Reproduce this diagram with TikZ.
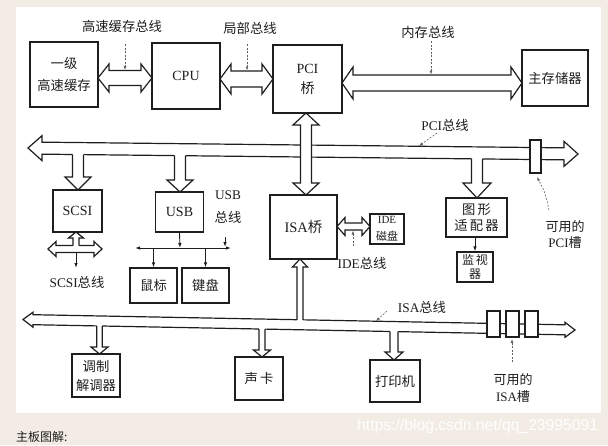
\documentclass[tikz,border=0pt]{standalone}
\usepackage{fontspec}
\setmainfont{Liberation Serif}
\newfontfamily\cjk{Noto Sans CJK SC}
\newfontfamily\wsans{Liberation Sans}
\usetikzlibrary{arrows.meta,calc}
\definecolor{bg}{HTML}{F2ECE4}
\definecolor{ink}{HTML}{1E1E1E}
\newcommand\zh[1]{{\cjk #1}}
% horizontal double hollow arrow: x1 x2 yc shaft head headlen
\newcommand\HDA[6]{\filldraw[hol] (#1,#3) -- ({#1+#6},{#3-#5}) -- ({#1+#6},{#3-#4}) -- ({#2-#6},{#3-#4}) -- ({#2-#6},{#3-#5}) -- (#2,#3) -- ({#2-#6},{#3+#5}) -- ({#2-#6},{#3+#4}) -- ({#1+#6},{#3+#4}) -- ({#1+#6},{#3+#5}) -- cycle;}
% tilted bus: x1 y1 x2 y2 shaft head headlen
\newcommand\BUS[7]{\pgfmathsetmacro\fr{#7/(#3-#1)}%
\filldraw[hol] (#1,#2) -- ($(#1,#2)!\fr!(#3,#4)+(0,-#6)$) -- ($(#1,#2)!\fr!(#3,#4)+(0,-#5)$) -- ($(#3,#4)!\fr!(#1,#2)+(0,-#5)$) -- ($(#3,#4)!\fr!(#1,#2)+(0,-#6)$) -- (#3,#4) -- ($(#3,#4)!\fr!(#1,#2)+(0,#6)$) -- ($(#3,#4)!\fr!(#1,#2)+(0,#5)$) -- ($(#1,#2)!\fr!(#3,#4)+(0,#5)$) -- ($(#1,#2)!\fr!(#3,#4)+(0,#6)$) -- cycle;}
% branch down from a bus: xc ytop ytip shaft head headlen
\newcommand\VBD[6]{\fill[white] ({#1-#4},{#2-2.5}) -- ({#1-#4},{#3-#6}) -- ({#1-#5},{#3-#6}) -- (#1,#3) -- ({#1+#5},{#3-#6}) -- ({#1+#4},{#3-#6}) -- ({#1+#4},{#2-2.5}) -- cycle;
\draw[ln] ({#1-#4},#2) -- ({#1-#4},{#3-#6}) -- ({#1-#5},{#3-#6}) -- (#1,#3) -- ({#1+#5},{#3-#6}) -- ({#1+#4},{#3-#6}) -- ({#1+#4},#2);}
% branch up from a bus: xc ybottom ytip shaft head headlen
\newcommand\VBU[6]{\fill[white] ({#1-#4},{#2+2.5}) -- ({#1-#4},{#3+#6}) -- ({#1-#5},{#3+#6}) -- (#1,#3) -- ({#1+#5},{#3+#6}) -- ({#1+#4},{#3+#6}) -- ({#1+#4},{#2+2.5}) -- cycle;
\draw[ln] ({#1-#4},#2) -- ({#1-#4},{#3+#6}) -- ({#1-#5},{#3+#6}) -- (#1,#3) -- ({#1+#5},{#3+#6}) -- ({#1+#4},{#3+#6}) -- ({#1+#4},#2);}
% vertical double hollow arrow: xc ytop ybottom shaft head headlen
\newcommand\VDA[6]{\filldraw[hol] (#1,#2) -- ({#1+#5},{#2+#6}) -- ({#1+#4},{#2+#6}) -- ({#1+#4},{#3-#6}) -- ({#1+#5},{#3-#6}) -- (#1,#3) -- ({#1-#5},{#3-#6}) -- ({#1-#4},{#3-#6}) -- ({#1-#4},{#2+#6}) -- ({#1-#5},{#2+#6}) -- cycle;}
\begin{document}
\begin{tikzpicture}[x=1pt,y=-1pt,
  ln/.style={draw=ink,line width=1.2pt,line join=miter},
  hol/.style={fill=white,draw=ink,line width=1.2pt,line join=miter},
  box/.style={draw=ink,line width=1.2pt,inner sep=0pt,align=center,text=ink,font=\cjk\fontsize{13.3}{20}\selectfont},
  lbl/.style={inner sep=0pt,align=center,text=ink,font=\fontsize{13.3}{16}\selectfont},
  zlbl/.style={lbl,font=\cjk\fontsize{13.3}{16}\selectfont},
  lead/.style={draw=ink!70,line width=0.6pt,dash pattern=on 2pt off 1.5pt,-{Latex[length=4pt,width=3pt]}},
  thinar/.style={draw=ink,line width=0.9pt,-{Latex[length=5pt,width=3.5pt]}},
  slot/.style={fill=white,draw=ink,line width=1.2pt}]
\useasboundingbox (0,0) rectangle (608,445);
\fill[bg] (0,0) rectangle (608,445);
\fill[white] (16,7) rectangle (601,413);

% ---- top row ----
\node[box,minimum width=68pt,minimum height=65pt,font=\cjk\fontsize{13.3}{22}\selectfont] (cache) at (64,74.5) {一级\\高速缓存};
\node[box,minimum width=68pt,minimum height=66pt,font=\fontsize{14}{16}\selectfont] (cpu) at (186,76) {CPU};
\node[box,minimum width=69pt,minimum height=68pt,font=\fontsize{14}{20}\selectfont] (pci) at (307.5,79) {PCI\\\zh{桥}};
\node[box,minimum width=66pt,minimum height=56pt] (mem) at (555,78) {主存储器};
\HDA{98}{152}{78}{7.5}{14}{11}
\HDA{220}{273}{79}{8}{15}{11}
\HDA{342}{522}{83}{8}{16}{11}
\node[zlbl] (lcache) at (122,26) {高速缓存总线};
\node[zlbl] (llocal) at (250,28) {局部总线};
\node[zlbl] (lmemb) at (428,32) {内存总线};
\draw[lead] (125,44) -- (125,70);
\draw[lead] (247,44) -- (247,70.5);
\draw[lead] (431,41) -- (431,74.5);

% ---- PCI bus ----
\BUS{28}{148}{578}{154}{6}{12.5}{14}
\VDA{306}{113}{195}{5.5}{13}{12}
\VBD{78}{154.5}{190}{5.5}{13}{13}
\VBD{180}{155.7}{192}{5.5}{13}{12}
\VBD{477}{158.9}{198}{5.5}{14}{15}
\filldraw[slot] (530,140) rectangle (541,173);
\node[lbl] (lpci) at (445,125) {PCI\zh{总线}};
\draw[lead] (437,133) -- (419,146);
\node[lbl,font=\fontsize{13}{16}\selectfont] (lpcislot) at (565,235) {\zh{可用的}\\PCI\zh{槽}};
\draw[lead] (549,210) .. controls (545,192) .. (537,177);

% ---- SCSI ----
\node[box,minimum width=49pt,minimum height=42pt,font=\fontsize{14}{16}\selectfont] (scsi) at (77.5,211) {SCSI};
\HDA{48}{102}{249}{3.5}{7.5}{8}
\VBU{76}{245.5}{232}{3}{7.5}{6}
\coordinate (scsiB) at (76,268);
\draw[thinar] (76,252.5) -- (scsiB);
\node[lbl] (lscsi) at (77,282) {SCSI\zh{总线}};

% ---- USB ----
\node[box,minimum width=48pt,minimum height=40pt,font=\fontsize{14}{16}\selectfont] (usb) at (179.5,212) {USB};
\coordinate (usbL) at (135,248);
\coordinate (usbR) at (231,248);
\coordinate (usbM) at (180,248);
\draw[thinar,{Latex[length=5pt,width=3.5pt]}-{Latex[length=5pt,width=3.5pt]}] (usbL) -- (usbR);
\draw[thinar] (usb.south) -- (usbM);
\node[box,minimum width=47pt,minimum height=35pt] (mouse) at (153.5,285.5) {鼠标};
\node[box,minimum width=47pt,minimum height=35pt] (kbd) at (205.5,285.5) {键盘};
\draw[thinar] (mouse.north |- usbM) -- (mouse.north);
\draw[thinar] (kbd.north |- usbM) -- (kbd.north);
\node[lbl,font=\fontsize{13.3}{23}\selectfont] (lusb) at (228,207) {USB\\\zh{总线}};
\draw[thinar] (225,237) -- (225,247);

% ---- ISA bridge & IDE ----
\node[box,minimum width=67pt,minimum height=64pt,font=\fontsize{14.5}{16}\selectfont] (isa) at (303.5,227) {ISA\zh{桥}};
\HDA{337}{370}{226.5}{3.5}{9}{8}
\node[box,minimum width=34pt,minimum height=30pt,font=\fontsize{11}{17}\selectfont] (ide) at (387,229) {IDE\\\zh{磁盘}};
\draw[lead] (353,246) -- (353,230.5);
\node[lbl] (lide) at (362,263) {IDE\zh{总线}};

% ---- graphics ----
\node[box,minimum width=61pt,minimum height=39pt,font=\cjk\fontsize{13.3}{16}\selectfont] (gfx) at (476.5,217.5) {图\,形\\适\,配\,器};
\node[box,minimum width=36pt,minimum height=30pt,font=\cjk\fontsize{12}{14}\selectfont] (mon) at (475,267) {监\,视\\器};
\draw[thinar] (mon.north |- gfx.south) -- (mon.north);

% ---- ISA bus ----
\BUS{23}{319.5}{575}{330}{5}{7.5}{10}
\VBU{300}{319.8}{259}{3}{7.5}{8}
\VBD{99.5}{325.9}{354}{2.8}{8.5}{7}
\VBD{262}{329}{357}{3}{8.5}{7}
\VBD{394}{331.5}{360}{4}{9}{8}
\node[box,minimum width=48pt,minimum height=43pt,font=\cjk\fontsize{13.3}{19}\selectfont] (modem) at (96,375.5) {调制\\解调器};
\node[box,minimum width=48pt,minimum height=43pt] (sound) at (259,378.5) {声\,卡};
\node[box,minimum width=50pt,minimum height=42pt] (printer) at (395,381) {打印机};
\filldraw[slot] (487,311) rectangle (500,337);
\filldraw[slot] (506,311) rectangle (519,337);
\filldraw[slot] (525,311) rectangle (538,337);
\draw[lead] (512,362) -- (512,339);
\node[lbl,font=\fontsize{13}{17}\selectfont] (lisaslot) at (513,388) {\zh{可用的}\\ISA\zh{槽}};
\node[lbl] (lisa) at (422,307) {ISA\zh{总线}};
\draw[lead] (387,311) -- (376,321);

% ---- page texts ----
\node[anchor=west,inner sep=0pt,text=ink,font=\cjk\fontsize{12}{14}\selectfont] (cap) at (16,437) {主板图解:};
\node[anchor=west,inner sep=0pt,text=white,font=\wsans\fontsize{15.7}{18}\selectfont] (wm) at (357,426) {https://blog.csdn.net/qq\_23995091};
\end{tikzpicture}
\end{document}
